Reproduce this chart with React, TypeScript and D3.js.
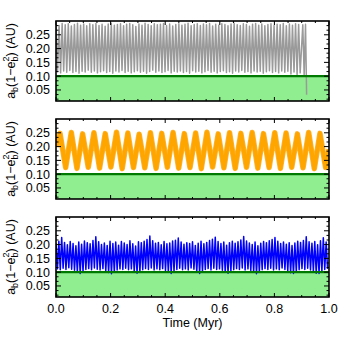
import React from 'react';
import * as d3 from 'd3';

// ---- data ----
const xMajorTicks = [0.0, 0.2, 0.4, 0.6, 0.8, 1.0];
const yTickLabels = [0.05, 0.10, 0.15, 0.20, 0.25];
const yDomain = [0.01, 0.30];
const stabilityLimit = 0.10;

// Panel 1 (grey): fast oscillation, cycle maxima & minima, ends near 0.918 Myr
const greyEnd = 0.9;
const greyHigh = [
  0.288, 0.284, 0.291, 0.286, 0.29, 0.282, 0.287, 0.292, 0.285, 0.289,
  0.283, 0.29, 0.286, 0.291, 0.284, 0.288, 0.281, 0.289, 0.292, 0.285,
  0.287, 0.29, 0.283, 0.288, 0.291, 0.286, 0.28, 0.289, 0.285, 0.292,
  0.287, 0.283, 0.29, 0.286, 0.288, 0.291, 0.284, 0.289, 0.282, 0.287,
  0.29, 0.285, 0.288, 0.292, 0.283, 0.287, 0.29, 0.284, 0.289, 0.286,
  0.291, 0.282, 0.288, 0.285, 0.29, 0.287, 0.283, 0.289, 0.292, 0.286,
  0.284, 0.29, 0.287, 0.281, 0.288, 0.291, 0.285, 0.289, 0.283, 0.287,
  0.29, 0.284, 0.288, 0.286, 0.291, 0.283, 0.289, 0.285, 0.29, 0.287,
];
const greyLow = [
  0.116, 0.112, 0.119, 0.114, 0.121, 0.113, 0.117, 0.111, 0.118, 0.115,
  0.122, 0.114, 0.119, 0.112, 0.116, 0.12, 0.113, 0.117, 0.111, 0.119,
  0.115, 0.121, 0.113, 0.118, 0.112, 0.116, 0.12, 0.114, 0.118, 0.111,
  0.117, 0.122, 0.114, 0.119, 0.113, 0.116, 0.121, 0.112, 0.118, 0.115,
  0.119, 0.113, 0.117, 0.111, 0.12, 0.115, 0.118, 0.112, 0.116, 0.121,
  0.114, 0.118, 0.112, 0.117, 0.12, 0.113, 0.116, 0.111, 0.119, 0.115,
  0.121, 0.114, 0.117, 0.112, 0.119, 0.115, 0.118, 0.111, 0.116, 0.12,
  0.113, 0.117, 0.112, 0.119, 0.114, 0.118, 0.108, 0.115, 0.106, 0.112,
];
const greyTailT = [0.904, 0.909, 0.914, 0.918];
const greyTailV = [0.286, 0.104, 0.288, 0.033];

// Panel 2 (orange): slow oscillation maxima/minima
const orangeStartV = 0.2;
const orangeFirstPeak = 0.0147;
const orangePeriod = 0.0414;
const orangePeaks = [
  0.248, 0.251, 0.246, 0.25, 0.247, 0.252, 0.249, 0.245, 0.25, 0.248, 0.251, 0.247,
  0.249, 0.252, 0.246, 0.25, 0.248, 0.251, 0.247, 0.25, 0.249, 0.246, 0.251, 0.248,
];
const orangeTroughs = [
  0.124, 0.121, 0.125, 0.122, 0.126, 0.12, 0.124, 0.123, 0.121, 0.125, 0.122, 0.124,
  0.12, 0.126, 0.123, 0.121, 0.125, 0.122, 0.124, 0.121, 0.125, 0.123, 0.12, 0.124,
];
const orangeEndV = 0.19;

// Panel 3 (blue): fast oscillation maxima/minima
const blueHigh = [
  0.205, 0.212, 0.226, 0.208, 0.199, 0.211, 0.204, 0.196, 0.209, 0.201, 0.213, 0.207,
  0.203, 0.215, 0.228, 0.21, 0.2, 0.206, 0.197, 0.212, 0.204, 0.209, 0.198, 0.211,
  0.206, 0.2, 0.214, 0.203, 0.195, 0.21, 0.207, 0.212, 0.218, 0.231, 0.214, 0.205,
  0.208, 0.199, 0.211, 0.203, 0.206, 0.213, 0.216, 0.224, 0.209, 0.201, 0.207, 0.204,
  0.21, 0.197, 0.205, 0.212, 0.203, 0.208, 0.215, 0.219, 0.227, 0.211, 0.204, 0.209,
  0.198, 0.207, 0.212, 0.205, 0.21, 0.217, 0.229, 0.213, 0.206, 0.2, 0.209, 0.196,
  0.205, 0.211, 0.207, 0.214, 0.218, 0.226, 0.212, 0.204, 0.209, 0.201, 0.207, 0.197,
  0.206, 0.212, 0.208, 0.215, 0.228, 0.21, 0.205, 0.211, 0.199, 0.214, 0.225, 0.209,
];
const blueLow = [
  0.112, 0.109, 0.114, 0.11, 0.116, 0.111, 0.107, 0.101, 0.095, 0.102, 0.11, 0.113,
  0.109, 0.115, 0.111, 0.108, 0.113, 0.104, 0.099, 0.094, 0.1, 0.108, 0.112, 0.11,
  0.114, 0.109, 0.112, 0.103, 0.096, 0.101, 0.109, 0.113, 0.11, 0.115, 0.108, 0.112,
  0.109, 0.113, 0.106, 0.1, 0.095, 0.103, 0.11, 0.114, 0.109, 0.112, 0.108, 0.115,
  0.111, 0.101, 0.095, 0.102, 0.11, 0.113, 0.108, 0.114, 0.11, 0.112, 0.107, 0.1,
  0.096, 0.103, 0.109, 0.113, 0.11, 0.115, 0.108, 0.112, 0.106, 0.1, 0.094, 0.102,
  0.109, 0.113, 0.11, 0.114, 0.108, 0.112, 0.109, 0.115, 0.11, 0.104, 0.098, 0.095,
  0.101, 0.109, 0.113, 0.11, 0.114, 0.108, 0.104, 0.096, 0.095, 0.103, 0.11, 0.112,
];

// ---- build point series ----
type Pt = [number, number];
function alternate(high: number[], low: number[], t0: number, t1: number): Pt[] {
  const n = high.length;
  const dt = (t1 - t0) / n;
  const pts: Pt[] = [];
  for (let i = 0; i < n; i++) {
    pts.push([t0 + i * dt, high[i]]);
    pts.push([t0 + i * dt + dt / 2, low[i]]);
  }
  return pts;
}

const greyPts: Pt[] = [
  ...alternate(greyHigh, greyLow, 0, greyEnd),
  ...greyTailT.map((t, i) => [t, greyTailV[i]] as Pt),
];

const orangePts: Pt[] = [[0, orangeStartV]];
orangePeaks.forEach((p, k) => {
  orangePts.push([orangeFirstPeak + k * orangePeriod, p]);
  orangePts.push([orangeFirstPeak + k * orangePeriod + orangePeriod / 2, orangeTroughs[k]]);
});
orangePts.push([1.0, orangeEndV]);

const bluePts: Pt[] = alternate(blueHigh, blueLow, 0, 1);

// ---- layout ----
const W = 350;
const H = 350;
const left = 56;
const right = 329;
const panelH = 80;
const panelTops = [21, 119, 217];
const FONT = '"Liberation Sans", Arial, Helvetica, sans-serif';

const x = d3.scaleLinear().domain([0, 1]).range([left, right]);
const xMinor = d3.range(0, 21).map((i) => i * 0.05);
const yMinor = d3.range(1, 18).map((i) => (i * 0.05) / 3);

type PanelProps = {
  top: number;
  pts: Pt[];
  color: string;
  width: number;
  id: string;
  showX: boolean;
  halo?: string;
  haloWidth?: number;
};

function Panel({ top, pts, color, width, id, showX, halo, haloWidth }: PanelProps) {
  const y = d3.scaleLinear().domain(yDomain).range([top + panelH, top]);
  const line = d3
    .line<Pt>()
    .x((d) => x(d[0]))
    .y((d) => y(d[1]));
  const bottom = top + panelH;
  const isMajorY = (v: number) => Math.abs(v / 0.05 - Math.round(v / 0.05)) < 1e-6;
  const isMajorX = (v: number) => Math.abs(v / 0.2 - Math.round(v / 0.2)) < 1e-6;
  const cy = top + panelH / 2;
  return (
    <g>
      <defs>
        <clipPath id={id}>
          <rect x={left} y={top} width={right - left} height={panelH} />
        </clipPath>
      </defs>
      <rect
        x={left}
        y={y(stabilityLimit)}
        width={right - left}
        height={bottom - y(stabilityLimit)}
        fill="#90EE90"
      />
      <g clipPath={`url(#${id})`}>
        {halo && (
          <path d={line(pts) || ''} fill="none" stroke={halo} strokeWidth={haloWidth} strokeLinejoin="round" />
        )}
        <path
          d={line(pts) || ''}
          fill="none"
          stroke={color}
          strokeWidth={width}
          strokeLinejoin="round"
        />
      </g>
      <line
        x1={left}
        x2={right}
        y1={y(stabilityLimit)}
        y2={y(stabilityLimit)}
        stroke="#007A00"
        strokeWidth={2.2}
      />
      {yMinor.map((v, i) => {
        const L = isMajorY(v) ? 5 : 2.5;
        return (
          <g key={'y' + i}>
            <line x1={left} x2={left + L} y1={y(v)} y2={y(v)} stroke="#000" strokeWidth={1} />
            <line x1={right} x2={right - L} y1={y(v)} y2={y(v)} stroke="#000" strokeWidth={1} />
          </g>
        );
      })}
      {xMinor.map((v, i) => {
        const L = isMajorX(v) ? 4 : 2;
        return (
          <g key={'x' + i}>
            <line x1={x(v)} x2={x(v)} y1={bottom} y2={bottom - L} stroke="#000" strokeWidth={1} />
            <line x1={x(v)} x2={x(v)} y1={top} y2={top + L} stroke="#000" strokeWidth={1} />
          </g>
        );
      })}
      <rect x={left} y={top} width={right - left} height={panelH} fill="none" stroke="#000" strokeWidth={1.6} />
      {yTickLabels.map((v) => (
        <text
          key={'yl' + v}
          x={50}
          y={y(v)}
          dy="0.36em"
          textAnchor="end"
          fontSize={12.5}
          fontFamily={FONT}
        >
          {d3.format('.2f')(v)}
        </text>
      ))}
      <text
        transform={`translate(15,${cy}) rotate(-90)`}
        textAnchor="middle"
        fontSize={12.5}
        fontFamily={FONT}
      >
        a<tspan fontSize={9} dy={3}>b</tspan>
        <tspan dy={-3}>(1−e</tspan>
        <tspan fontSize={9} dy={3}>b</tspan>
        <tspan fontSize={9} dx={-5} dy={-9}>2</tspan>
        <tspan dy={6}>) (AU)</tspan>
      </text>
      {showX &&
        xMajorTicks.map((v) => (
          <text
            key={'xl' + v}
            x={x(v)}
            y={313}
            textAnchor="middle"
            fontSize={12.5}
            fontFamily={FONT}
          >
            {d3.format('.1f')(v)}
          </text>
        ))}
    </g>
  );
}

export default function App() {
  return (
    <svg
      width={W}
      height={H}
      viewBox={`0 0 ${W} ${H}`}
      style={{ position: 'absolute', left: 0, top: 0, background: '#fff', display: 'block' }}
    >
      <rect x={0} y={0} width={W} height={H} fill="#fff" />
      <Panel top={panelTops[0]} pts={greyPts} color="#9a9a9a" width={1.5} id="clip0" showX={false} />
      <Panel top={panelTops[1]} pts={orangePts} color="#FFA500" width={4} id="clip1" showX={false} halo="#FFB52E" haloWidth={5.5} />
      <Panel top={panelTops[2]} pts={bluePts} color="#0000FF" width={1.5} id="clip2" showX={true} />
      <text x={192.5} y={327} textAnchor="middle" fontSize={12.5} fontFamily={FONT}>
        Time (Myr)
      </text>
    </svg>
  );
}
